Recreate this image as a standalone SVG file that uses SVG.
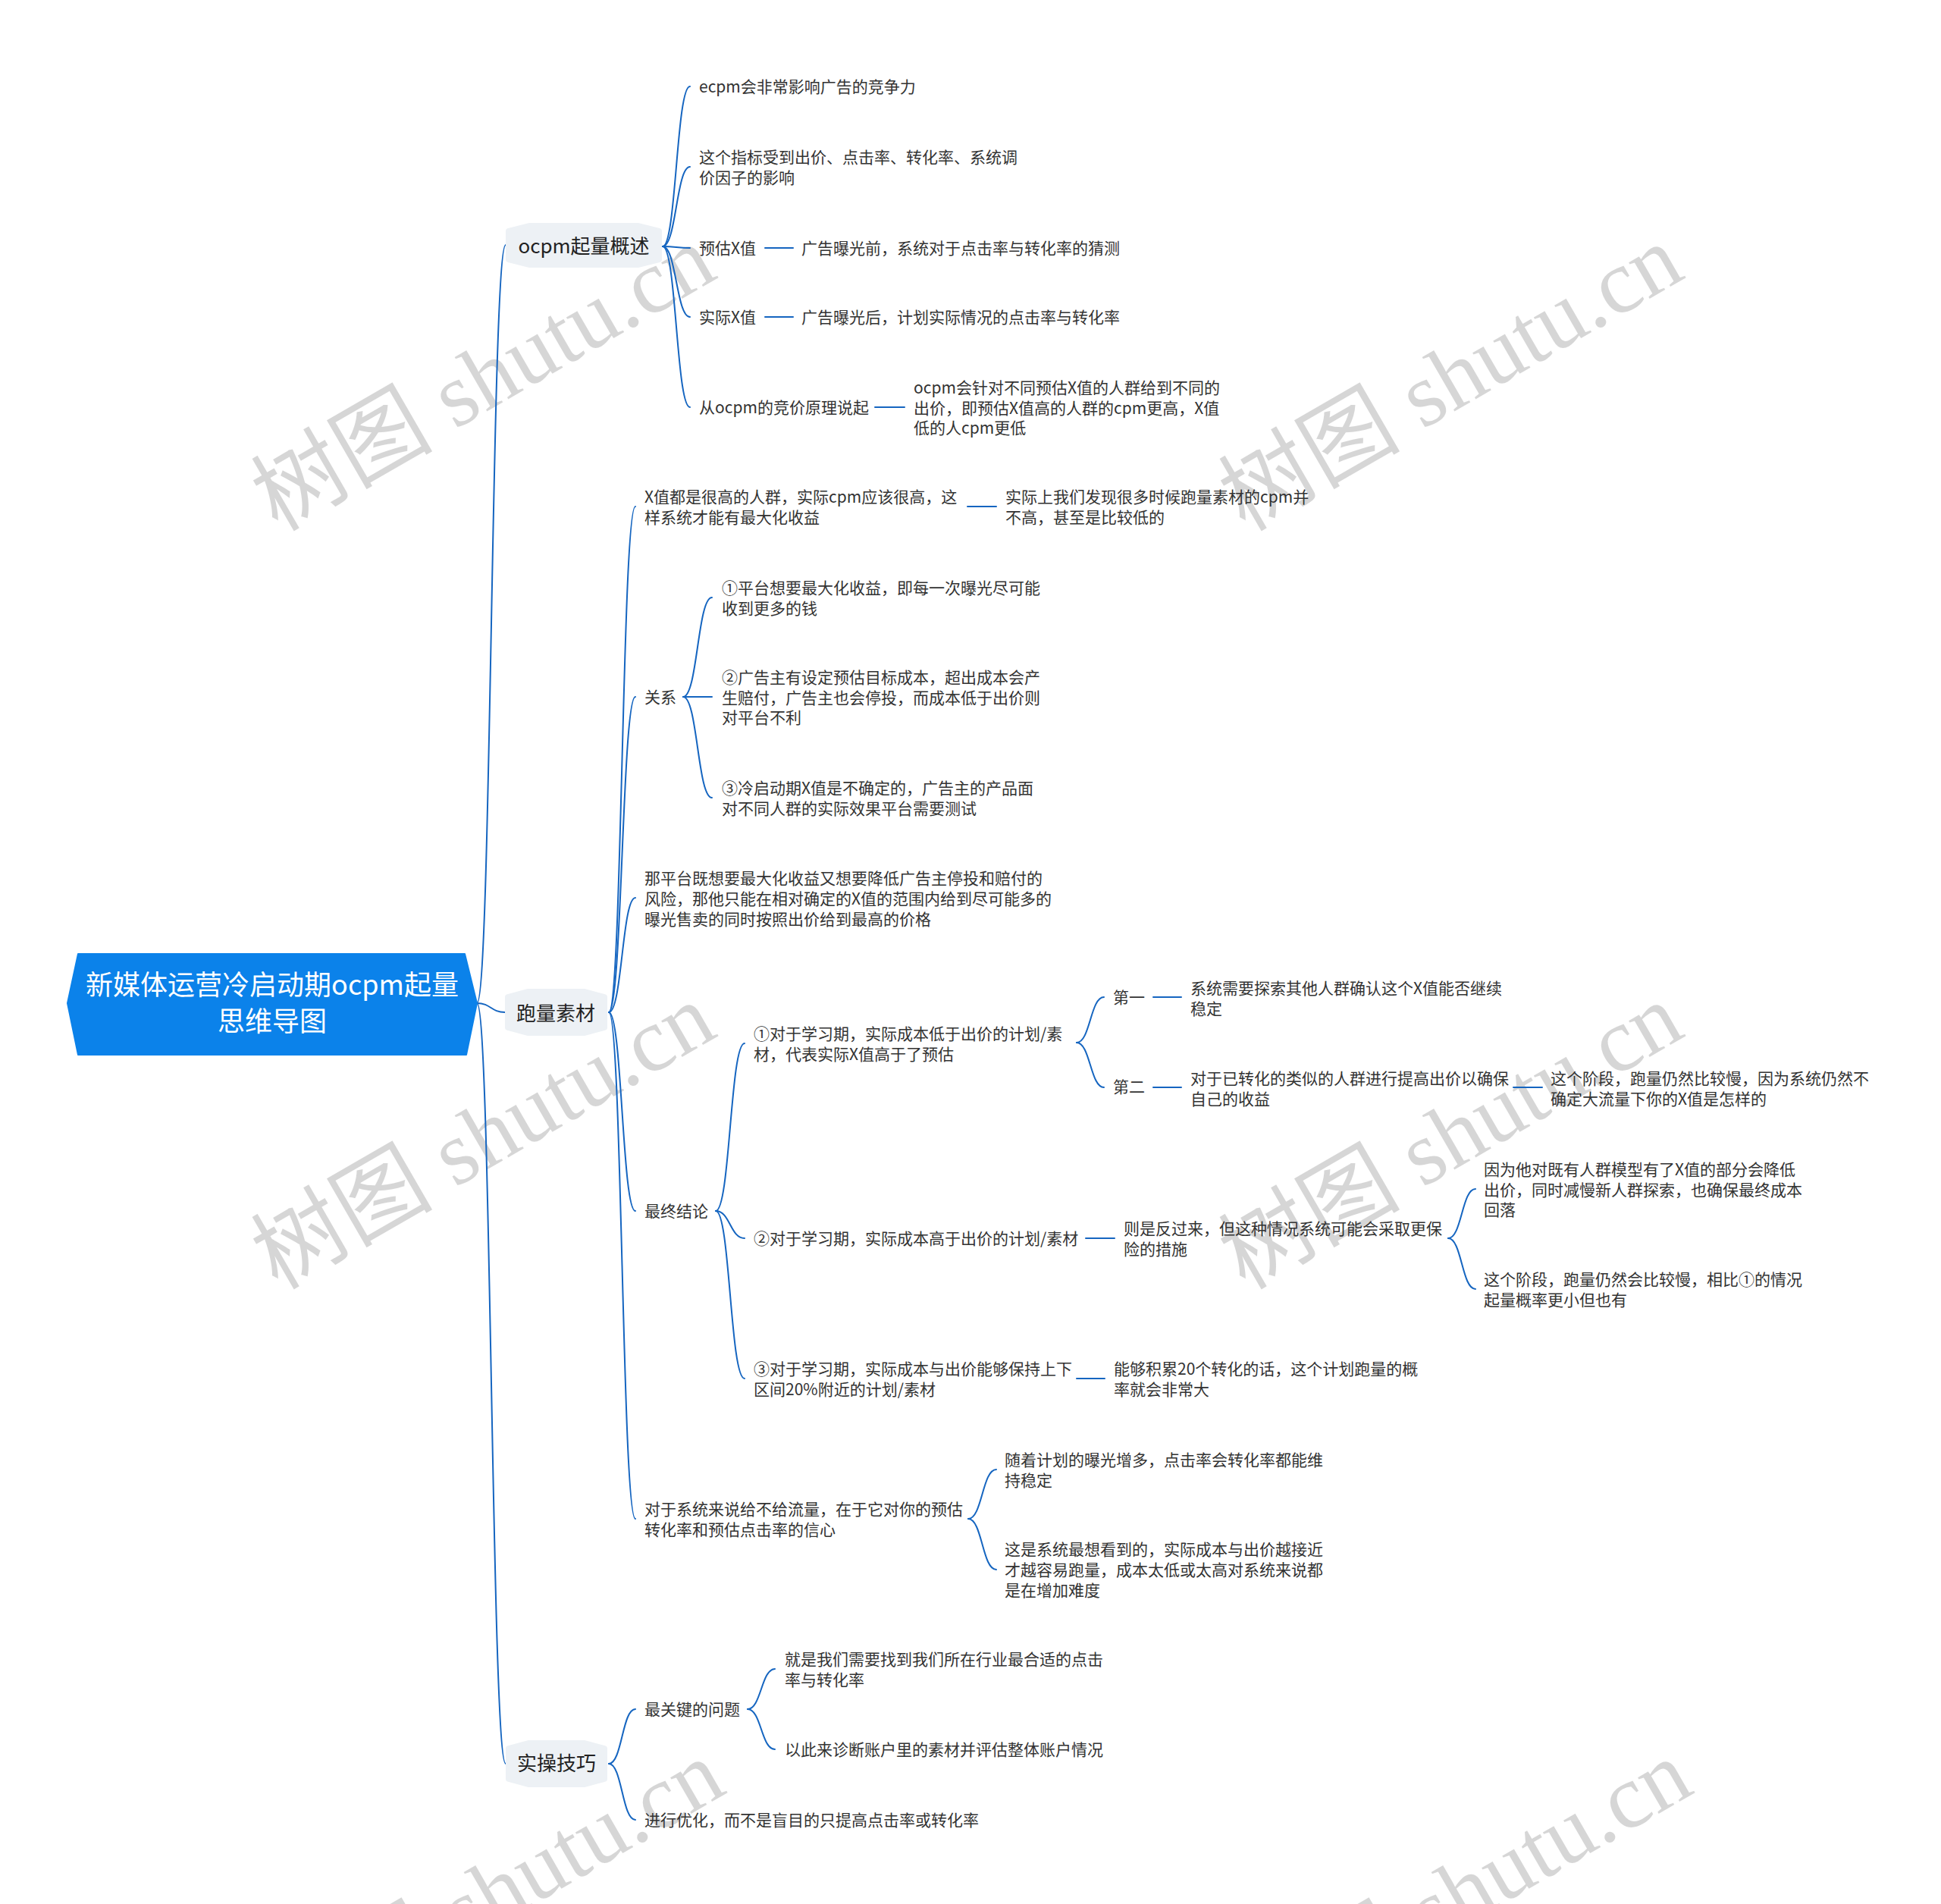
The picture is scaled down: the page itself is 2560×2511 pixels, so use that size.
<svg xmlns="http://www.w3.org/2000/svg" width="2560" height="2511" viewBox="0 0 2560 2511">
<style>
.c{fill:none;stroke:#1565c0;stroke-width:2;stroke-linecap:round}
.t{font-family:"Noto Sans CJK SC","Noto Sans",sans-serif;font-size:21px;fill:#333}
.m{font-family:"Noto Sans CJK SC","Noto Sans",sans-serif;font-size:26px;fill:#222;text-anchor:middle}
.r{font-family:"Noto Sans CJK SC","Noto Sans",sans-serif;font-size:36px;fill:#fff;text-anchor:middle}
.mb{fill:#edf1f5;stroke:#edf1f5;stroke-width:8;stroke-linejoin:round}
.rb{fill:#0b82ea;stroke:#0b82ea;stroke-width:2;stroke-linejoin:round}
.wm{font-family:"Liberation Serif","Noto Sans CJK SC",serif;font-size:120px;fill:#000;fill-opacity:0.16}
</style>
<rect width="2560" height="2511" fill="#fff"/>
<g id="watermarks">
<text class="wm" transform="translate(366,702) rotate(-30)">树图 shutu.cn</text>
<text class="wm" transform="translate(1642,702) rotate(-30)">树图 shutu.cn</text>
<text class="wm" transform="translate(366,1702) rotate(-30)">树图 shutu.cn</text>
<text class="wm" transform="translate(1642,1702) rotate(-30)">树图 shutu.cn</text>
<text class="wm" transform="translate(378,2700) rotate(-30)">树图 shutu.cn</text>
<text class="wm" transform="translate(1654,2700) rotate(-30)">树图 shutu.cn</text>
</g>
<g id="connectors">
<path class="c" d="M629 1323 C648 1323 648 323 667 323"/>
<path class="c" d="M629 1323 C647.5 1323 647.5 1335 666 1335"/>
<path class="c" d="M629 1323 C648 1323 648 2326 667 2326"/>
<path class="c" d="M874 325 C892 325 892 114 910 114"/>
<path class="c" d="M874 325 C892 325 892 220 910 220"/>
<path class="c" d="M874 325 C892 325 892 327 910 327"/>
<path class="c" d="M874 325 C892 325 892 418 910 418"/>
<path class="c" d="M874 325 C892 325 892 537 910 537"/>
<path class="c" d="M1009 327 H1046"/>
<path class="c" d="M1009 418 H1046"/>
<path class="c" d="M1154 537 H1193"/>
<path class="c" d="M803 1335 C820.5 1335 820.5 668 838 668"/>
<path class="c" d="M803 1335 C820.5 1335 820.5 919 838 919"/>
<path class="c" d="M803 1335 C820.5 1335 820.5 1184 838 1184"/>
<path class="c" d="M803 1335 C820.5 1335 820.5 1597 838 1597"/>
<path class="c" d="M803 1335 C820.5 1335 820.5 2003 838 2003"/>
<path class="c" d="M1276 668 H1314"/>
<path class="c" d="M901 919 C920 919 920 788 939 788"/>
<path class="c" d="M901 919 H939"/>
<path class="c" d="M901 919 C920 919 920 1052 939 1052"/>
<path class="c" d="M944 1597 C963 1597 963 1376 982 1376"/>
<path class="c" d="M944 1597 C963 1597 963 1633 982 1633"/>
<path class="c" d="M944 1597 C963 1597 963 1818 982 1818"/>
<path class="c" d="M1420 1375 C1438 1375 1438 1315 1456 1315"/>
<path class="c" d="M1420 1375 C1438 1375 1438 1434 1456 1434"/>
<path class="c" d="M1521 1315 H1558"/>
<path class="c" d="M1521 1434 H1558"/>
<path class="c" d="M1996 1434 H2034"/>
<path class="c" d="M1432 1633 H1470"/>
<path class="c" d="M1910 1633 C1928 1633 1928 1568 1946 1568"/>
<path class="c" d="M1910 1633 C1928 1633 1928 1700 1946 1700"/>
<path class="c" d="M1420 1818 H1457"/>
<path class="c" d="M1277 2003 C1295.5 2003 1295.5 1938 1314 1938"/>
<path class="c" d="M1277 2003 C1295.5 2003 1295.5 2070 1314 2070"/>
<path class="c" d="M803 2326 C820.5 2326 820.5 2254 838 2254"/>
<path class="c" d="M803 2326 C820.5 2326 820.5 2400 838 2400"/>
<path class="c" d="M986 2254 C1004 2254 1004 2201 1022 2201"/>
<path class="c" d="M986 2254 C1004 2254 1004 2307 1022 2307"/>
</g>
<g id="root">
<polygon class="rb" points="89,1323 103,1258 613,1258 629,1323 615,1391 103,1391"/>
<text class="r" x="359" y="1312">新媒体运营冷启动期ocpm起量</text>
<text class="r" x="359" y="1360">思维导图</text>
</g>
<g id="n-ocpm">
<polygon class="mb" points="671,305 699,298 841,298 869,305 869,342 841,349 699,349 671,342"/>
<text class="m" x="770" y="334">ocpm起量概述</text>
</g>
<g id="n-ocpm-1"><text class="t" x="922" y="122">ecpm会非常影响广告的竞争力</text></g>
<g id="n-ocpm-2"><text class="t" x="922" y="215">这个指标受到出价、点击率、转化率、系统调<tspan x="922" dy="27">价因子的影响</tspan></text></g>
<g id="n-ocpm-3"><text class="t" x="922" y="335">预估X值</text></g>
<g id="n-ocpm-3-1"><text class="t" x="1057" y="335">广告曝光前，系统对于点击率与转化率的猜测</text></g>
<g id="n-ocpm-4"><text class="t" x="922" y="426">实际X值</text></g>
<g id="n-ocpm-4-1"><text class="t" x="1057" y="426">广告曝光后，计划实际情况的点击率与转化率</text></g>
<g id="n-ocpm-5"><text class="t" x="922" y="545">从ocpm的竞价原理说起</text></g>
<g id="n-ocpm-5-1"><text class="t" x="1205" y="519">ocpm会针对不同预估X值的人群给到不同的<tspan x="1205" dy="26.5">出价，即预估X值高的人群的cpm更高，X值</tspan><tspan x="1205" dy="26.5">低的人cpm更低</tspan></text></g>
<g id="n-pl">
<polygon class="mb" points="670,1315 696,1308 771,1308 797,1315 797,1355 771,1362 696,1362 670,1355"/>
<text class="m" x="733" y="1346">跑量素材</text>
</g>
<g id="n-pl-1"><text class="t" x="850" y="663">X值都是很高的人群，实际cpm应该很高，这<tspan x="850" dy="27">样系统才能有最大化收益</tspan></text></g>
<g id="n-pl-1-1"><text class="t" x="1326" y="663">实际上我们发现很多时候跑量素材的cpm并<tspan x="1326" dy="27">不高，甚至是比较低的</tspan></text></g>
<g id="n-pl-2"><text class="t" x="850" y="927">关系</text></g>
<g id="n-pl-2-1"><text class="t" x="952" y="783">①平台想要最大化收益，即每一次曝光尽可能<tspan x="952" dy="27">收到更多的钱</tspan></text></g>
<g id="n-pl-2-2"><text class="t" x="952" y="901">②广告主有设定预估目标成本，超出成本会产<tspan x="952" dy="26.5">生赔付，广告主也会停投，而成本低于出价则</tspan><tspan x="952" dy="26.5">对平台不利</tspan></text></g>
<g id="n-pl-2-3"><text class="t" x="952" y="1047">③冷启动期X值是不确定的，广告主的产品面<tspan x="952" dy="27">对不同人群的实际效果平台需要测试</tspan></text></g>
<g id="n-pl-3"><text class="t" x="850" y="1166">那平台既想要最大化收益又想要降低广告主停投和赔付的<tspan x="850" dy="27">风险，那他只能在相对确定的X值的范围内给到尽可能多的</tspan><tspan x="850" dy="27">曝光售卖的同时按照出价给到最高的价格</tspan></text></g>
<g id="n-pl-4"><text class="t" x="850" y="1605">最终结论</text></g>
<g id="n-pl-4-1"><text class="t" x="994" y="1371">①对于学习期，实际成本低于出价的计划/素<tspan x="994" dy="26.5">材，代表实际X值高于了预估</tspan></text></g>
<g id="n-pl-4-1-1"><text class="t" x="1468" y="1323">第一</text></g>
<g id="n-pl-4-1-1-1"><text class="t" x="1570" y="1311">系统需要探索其他人群确认这个X值能否继续<tspan x="1570" dy="27">稳定</tspan></text></g>
<g id="n-pl-4-1-2"><text class="t" x="1468" y="1441">第二</text></g>
<g id="n-pl-4-1-2-1"><text class="t" x="1570" y="1430">对于已转化的类似的人群进行提高出价以确保<tspan x="1570" dy="26.5">自己的收益</tspan></text></g>
<g id="n-pl-4-1-2-1-1"><text class="t" x="2045" y="1430">这个阶段，跑量仍然比较慢，因为系统仍然不<tspan x="2045" dy="26.5">确定大流量下你的X值是怎样的</tspan></text></g>
<g id="n-pl-4-2"><text class="t" x="994" y="1641">②对于学习期，实际成本高于出价的计划/素材</text></g>
<g id="n-pl-4-2-1"><text class="t" x="1482" y="1628">则是反过来，但这种情况系统可能会采取更保<tspan x="1482" dy="27">险的措施</tspan></text></g>
<g id="n-pl-4-2-1-1"><text class="t" x="1957" y="1550">因为他对既有人群模型有了X值的部分会降低<tspan x="1957" dy="26.5">出价，同时减慢新人群探索，也确保最终成本</tspan><tspan x="1957" dy="26.5">回落</tspan></text></g>
<g id="n-pl-4-2-1-2"><text class="t" x="1957" y="1695">这个阶段，跑量仍然会比较慢，相比①的情况<tspan x="1957" dy="26.5">起量概率更小但也有</tspan></text></g>
<g id="n-pl-4-3"><text class="t" x="994" y="1813">③对于学习期，实际成本与出价能够保持上下<tspan x="994" dy="27">区间20%附近的计划/素材</tspan></text></g>
<g id="n-pl-4-3-1"><text class="t" x="1469" y="1813">能够积累20个转化的话，这个计划跑量的概<tspan x="1469" dy="27">率就会非常大</tspan></text></g>
<g id="n-pl-5"><text class="t" x="850" y="1998">对于系统来说给不给流量，在于它对你的预估<tspan x="850" dy="27">转化率和预估点击率的信心</tspan></text></g>
<g id="n-pl-5-1"><text class="t" x="1325" y="1933">随着计划的曝光增多，点击率会转化率都能维<tspan x="1325" dy="27">持稳定</tspan></text></g>
<g id="n-pl-5-2"><text class="t" x="1325" y="2051">这是系统最想看到的，实际成本与出价越接近<tspan x="1325" dy="27">才越容易跑量，成本太低或太高对系统来说都</tspan><tspan x="1325" dy="27">是在增加难度</tspan></text></g>
<g id="n-sc">
<polygon class="mb" points="671,2306 697,2299 771,2299 797,2306 797,2346 771,2353 697,2353 671,2346"/>
<text class="m" x="734" y="2335">实操技巧</text>
</g>
<g id="n-sc-1"><text class="t" x="850" y="2262">最关键的问题</text></g>
<g id="n-sc-1-1"><text class="t" x="1035" y="2196">就是我们需要找到我们所在行业最合适的点击<tspan x="1035" dy="27">率与转化率</tspan></text></g>
<g id="n-sc-1-2"><text class="t" x="1035" y="2315">以此来诊断账户里的素材并评估整体账户情况</text></g>
<g id="n-sc-2"><text class="t" x="850" y="2408">进行优化，而不是盲目的只提高点击率或转化率</text></g>
</svg>
